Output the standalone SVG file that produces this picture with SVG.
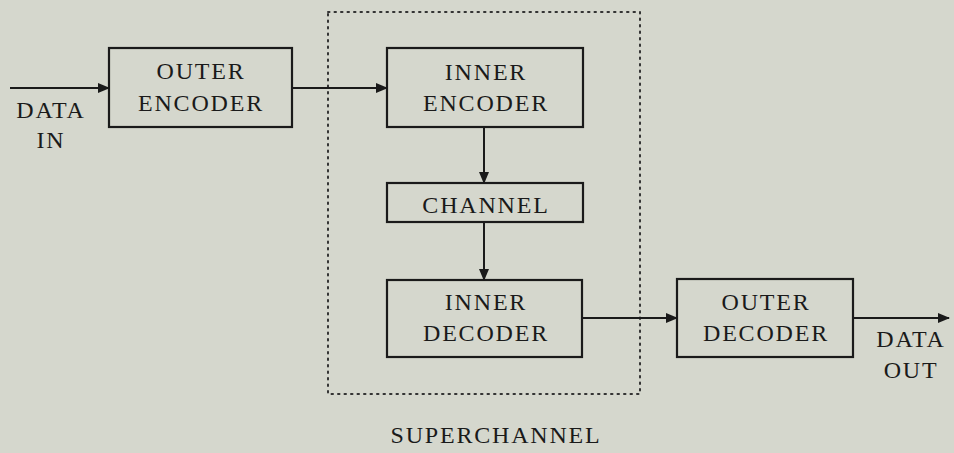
<svg xmlns="http://www.w3.org/2000/svg" width="954" height="453" viewBox="0 0 954 453">
<style>
.box{fill:none;stroke:#1a1a1a;stroke-width:2.2}
.ln{fill:none;stroke:#1a1a1a;stroke-width:2}
.dot{fill:none;stroke:#333;stroke-width:2;stroke-dasharray:1.5 5;stroke-linecap:round}
text{font-family:"Liberation Serif","Times New Roman",serif;font-size:24px;letter-spacing:1.8px;fill:#1a1a1a;text-anchor:middle}
</style>
<defs>
<marker id="ah" markerWidth="12" markerHeight="10" refX="11" refY="5" orient="auto" markerUnits="userSpaceOnUse">
<path d="M0,0 L12,5 L0,10 Z" fill="#1a1a1a"/>
</marker>
</defs>
<rect width="954" height="453" fill="#d5d7cd"/>
<g id="superchannel">
<rect class="dot" x="328" y="12" width="312" height="382"/>
<text x="496" y="443">SUPERCHANNEL</text>
</g>
<g id="outer-encoder">
<rect class="box" x="109" y="48" width="183" height="79"/>
<text x="201" y="79">OUTER</text>
<text x="201" y="111">ENCODER</text>
</g>
<g id="inner-encoder">
<rect class="box" x="387" y="48" width="196" height="79"/>
<text x="486" y="80">INNER</text>
<text x="486" y="111">ENCODER</text>
</g>
<g id="channel">
<rect class="box" x="387" y="183" width="196" height="39"/>
<text x="486" y="213">CHANNEL</text>
</g>
<g id="inner-decoder">
<rect class="box" x="387" y="280" width="195" height="77"/>
<text x="486" y="310">INNER</text>
<text x="486" y="341">DECODER</text>
</g>
<g id="outer-decoder">
<rect class="box" x="677" y="279" width="176" height="78"/>
<text x="766" y="310">OUTER</text>
<text x="766" y="341">DECODER</text>
</g>
<g id="data-in">
<text x="51" y="118">DATA</text>
<text x="51" y="148">IN</text>
</g>
<g id="data-out">
<text x="911" y="347">DATA</text>
<text x="911" y="378">OUT</text>
</g>
<g id="connectors">
<line class="ln" x1="10" y1="88" x2="109" y2="88" marker-end="url(#ah)"/>
<line class="ln" x1="292" y1="88" x2="387" y2="88" marker-end="url(#ah)"/>
<line class="ln" x1="484" y1="127" x2="484" y2="183" marker-end="url(#ah)"/>
<line class="ln" x1="484" y1="222" x2="484" y2="280" marker-end="url(#ah)"/>
<line class="ln" x1="582" y1="318" x2="677" y2="318" marker-end="url(#ah)"/>
<line class="ln" x1="853" y1="318" x2="949" y2="318" marker-end="url(#ah)"/>
</g>
</svg>
